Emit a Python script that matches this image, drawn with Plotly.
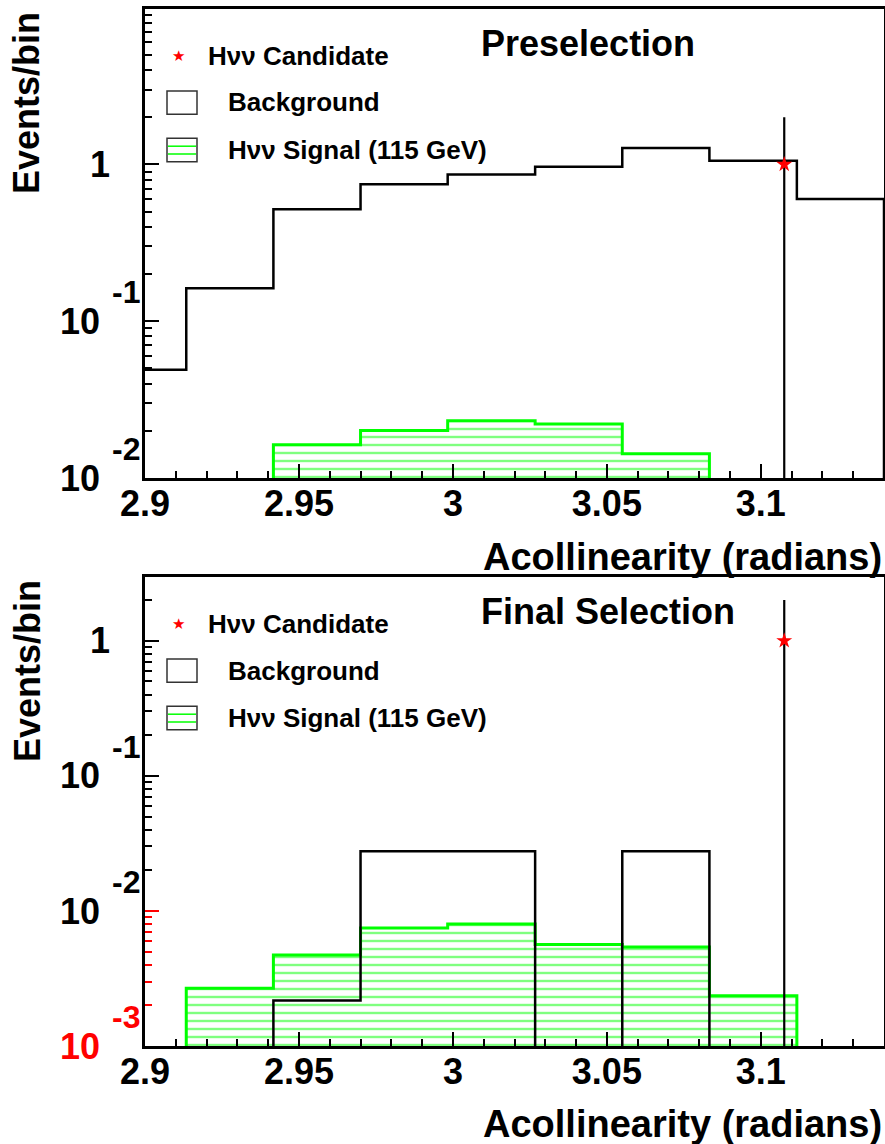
import math
import plotly.graph_objects as go

W, H = 885, 1144

# ---------------- data ----------------
bin_edges = [2.8850, 2.9134, 2.9417, 2.9700, 2.9983, 3.0267, 3.0550, 3.0833, 3.1117, 3.1400]
pre_background = [0.049, 0.1625, 0.518, 0.748, 0.863, 0.965, 1.27, 1.054, 0.601]
pre_signal = [0, 0, 0.0163, 0.0201, 0.0232, 0.0221, 0.0143, 0, 0]
fin_background = [0, 0, 0.00217, 0.0277, 0.0277, 0, 0.0277, 0, 0]
fin_signal = [0, 0.00268, 0.00471, 0.00747, 0.00800, 0.00565, 0.00540, 0.00236, 0]
cand_x = [3.1076]
cand_y = [1.0]
cand_err = [1.0]

x_tick_vals = [2.9, 2.95, 3.0, 3.05, 3.1]
x_tick_text = ["2.9", "2.95", "3", "3.05", "3.1"]
x_minor_vals = [round(2.9 + 0.01 * i, 2) for i in range(25)]

pre_y_tick_vals = [0.01, 0.1, 1]
pre_y_tick_text = ["10&nbsp;", "10&nbsp;", "1"]
pre_y_exp = {0.01: "-2", 0.1: "-1"}
fin_y_tick_vals = [0.001, 0.01, 0.1, 1]
fin_y_tick_text = ["<span style='color:#ff0000'>10</span>&nbsp;", "10&nbsp;", "10&nbsp;", "1"]
fin_y_exp = {0.001: "-3", 0.01: "-2", 0.1: "-1"}

FONT = "Liberation Sans"
GREEN = "#00ff00"
RED = "#ff0000"
FLOOR = 1e-7


def px(x):
    return x / W


def py(y):
    return 1 - y / H


def steps(edges, vals):
    xs = [edges[0]]
    ys = [FLOOR]
    for i, v in enumerate(vals):
        v = v if v > 0 else FLOOR
        xs += [edges[i], edges[i + 1]]
        ys += [v, v]
    xs.append(edges[-1])
    ys.append(FLOOR)
    return xs, ys


def minor_log(lo_exp, hi_val):
    out = []
    for e in range(lo_exp, 2):
        for m in range(2, 10):
            v = m * 10 ** e
            if v < hi_val:
                out.append(v)
    return out


fig = go.Figure()


def add_panel(xa, ya, bkg, sig):
    sx, sy = steps(bin_edges, sig)
    fig.add_trace(go.Scatter(
        x=sx, y=sy, xaxis=xa, yaxis=ya, mode="lines",
        line=dict(color=GREEN, width=3), fill="toself",
        fillcolor="rgba(0,0,0,0)",
        fillpattern=dict(shape="-", fgcolor=GREEN, bgcolor="rgba(0,0,0,0)",
                         size=8, solidity=0.3, fillmode="overlay"),
        hoverinfo="skip", showlegend=False))
    bx, by = steps(bin_edges, bkg)
    fig.add_trace(go.Scatter(
        x=bx, y=by, xaxis=xa, yaxis=ya, mode="lines",
        line=dict(color="black", width=2.5), hoverinfo="skip", showlegend=False))
    for cx, cy, ce in zip(cand_x, cand_y, cand_err):
        fig.add_trace(go.Scatter(
            x=[cx, cx], y=[max(cy - ce, FLOOR), cy + ce], xaxis=xa, yaxis=ya,
            mode="lines", line=dict(color="black", width=2.2),
            hoverinfo="skip", showlegend=False))
    fig.add_trace(go.Scatter(
        x=cand_x, y=cand_y, xaxis=xa, yaxis=ya, mode="markers",
        marker=dict(symbol="star", color=RED, size=12, line=dict(width=0)),
        hoverinfo="skip", showlegend=False))


add_panel("x", "y", pre_background, pre_signal)
add_panel("x2", "y2", fin_background, fin_signal)

tickfont = dict(family=FONT, size=36, color="black", weight="bold")

xcommon = dict(
    domain=[px(145), px(884)], range=[2.9, 3.14], tickmode="array",
    tickvals=x_tick_vals, ticktext=x_tick_text, ticks="inside", ticklen=14,
    tickwidth=1.5, tickcolor="black", showline=True, linewidth=2.5, linecolor="black",
    mirror=True, showgrid=False, zeroline=False, tickfont=tickfont,
    ticklabelstandoff=-8, automargin=False,
    minor=dict(tickmode="array", tickvals=x_minor_vals, ticks="inside", ticklen=7,
               tickwidth=1.5, tickcolor="black", showgrid=False),
)

ycommon = dict(
    type="log", tickmode="array", ticks="inside", ticklen=14, tickwidth=1.5,
    tickcolor="black", showline=True, linewidth=2.5, linecolor="black", mirror=True,
    showgrid=False, zeroline=False, tickfont=tickfont, ticklabelstandoff=25,
    automargin=False,
)

fig.update_layout(
    width=W, height=H, margin=dict(l=0, r=0, t=0, b=0, pad=0, autoexpand=False),
    paper_bgcolor="white", plot_bgcolor="white", showlegend=False,
    font=dict(family=FONT, color="black", weight="bold"),
    xaxis=dict(anchor="y", **xcommon),
    xaxis2=dict(anchor="y2", **xcommon),
    yaxis=dict(anchor="x", domain=[py(478), py(9)], range=[-2, 0.991],
               tickvals=pre_y_tick_vals, ticktext=pre_y_tick_text,
               minor=dict(tickmode="array", tickvals=minor_log(-2, 9.8), ticks="inside",
                          ticklen=7, tickwidth=1.5, tickcolor="black", showgrid=False),
               **ycommon),
    yaxis2=dict(anchor="x2", domain=[py(1046), py(577)], range=[-3, 0.472],
                tickvals=fin_y_tick_vals, ticktext=fin_y_tick_text,
                minor=dict(tickmode="array", tickvals=minor_log(-2, 2.9),
                           ticks="inside", ticklen=7, tickwidth=1.5, tickcolor="black",
                           showgrid=False),
                **ycommon),
    yaxis3=dict(anchor="x2", overlaying="y2", type="log", range=[-3, 0.472],
                tickmode="array", tickvals=[0.01], ticks="inside", ticklen=14,
                tickwidth=1.5, tickcolor=RED, showticklabels=False,
                showline=False, showgrid=False, zeroline=False, automargin=False,
                minor=dict(tickmode="array", tickvals=minor_log(-3, 0.0095),
                           ticks="inside", ticklen=7, tickwidth=1.5,
                           tickcolor=RED, showgrid=False)),
)

# dummy trace to activate yaxis3
fig.add_trace(go.Scatter(x=[None], y=[None], xaxis="x2", yaxis="y3",
                         hoverinfo="skip", showlegend=False))

ann = []
shapes = []


def afont(size, color="black"):
    return dict(family=FONT, size=size, color=color, weight="bold")


for yname, exps, red in (("y", pre_y_exp, None), ("y2", fin_y_exp, 0.001)):
    for val, txt in exps.items():
        ann.append(dict(x=px(142), xref="paper", y=math.log10(val), yref=yname,
                        yshift=29, text=txt, showarrow=False, xanchor="right",
                        yanchor="middle",
                        font=afont(32, RED if val == red else "black")))


def panel_text(top, title):
    ann.append(dict(x=px(479), y=py(top + 34), xref="paper", yref="paper", text=title,
                    showarrow=False, xanchor="left", yanchor="middle", font=afont(36)))
    ann.append(dict(x=px(27), y=py(top + 94), xref="paper", yref="paper",
                    text="Events/bin", textangle=-90, showarrow=False,
                    xanchor="center", yanchor="middle", font=afont(36)))
    # legend
    ann.append(dict(x=px(178.5), y=py(top + 47), xref="paper", yref="paper",
                    text="★", showarrow=False, xanchor="center", yanchor="middle",
                    font=dict(family="DejaVu Sans", size=15, color=RED)))
    ann.append(dict(x=px(206), y=py(top + 46.5), xref="paper", yref="paper",
                    text="Hνν Candidate", showarrow=False, xanchor="left",
                    yanchor="middle", font=afont(26)))
    ann.append(dict(x=px(226), y=py(top + 93.5), xref="paper", yref="paper",
                    text="Background", showarrow=False, xanchor="left",
                    yanchor="middle", font=afont(26)))
    ann.append(dict(x=px(226), y=py(top + 141), xref="paper", yref="paper",
                    text="Hνν Signal (115 GeV)", showarrow=False, xanchor="left",
                    yanchor="middle", font=afont(26)))
    shapes.append(dict(type="rect", xref="paper", yref="paper",
                       x0=px(167), x1=px(197), y0=py(top + 82), y1=py(top + 105.3),
                       line=dict(color="#333333", width=1.5), fillcolor="white"))
    shapes.append(dict(type="rect", xref="paper", yref="paper",
                       x0=px(167), x1=px(197), y0=py(top + 129.3), y1=py(top + 152.7),
                       line=dict(color="#333333", width=1.5), fillcolor="white"))
    for yy in (top + 137.2, top + 145):
        shapes.append(dict(type="line", xref="paper", yref="paper",
                           x0=px(168), x1=px(196), y0=py(yy), y1=py(yy),
                           line=dict(color=GREEN, width=1.5)))


panel_text(9, "Preselection")
panel_text(577, "Final Selection")

for yy in (557, 1124):
    ann.append(dict(x=px(884), y=py(yy), xref="paper", yref="paper",
                    text="Acollinearity (radians)", showarrow=False,
                    xanchor="right", yanchor="middle", font=afont(38)))

fig.update_layout(annotations=ann, shapes=shapes)
fig.write_html("out.html")
